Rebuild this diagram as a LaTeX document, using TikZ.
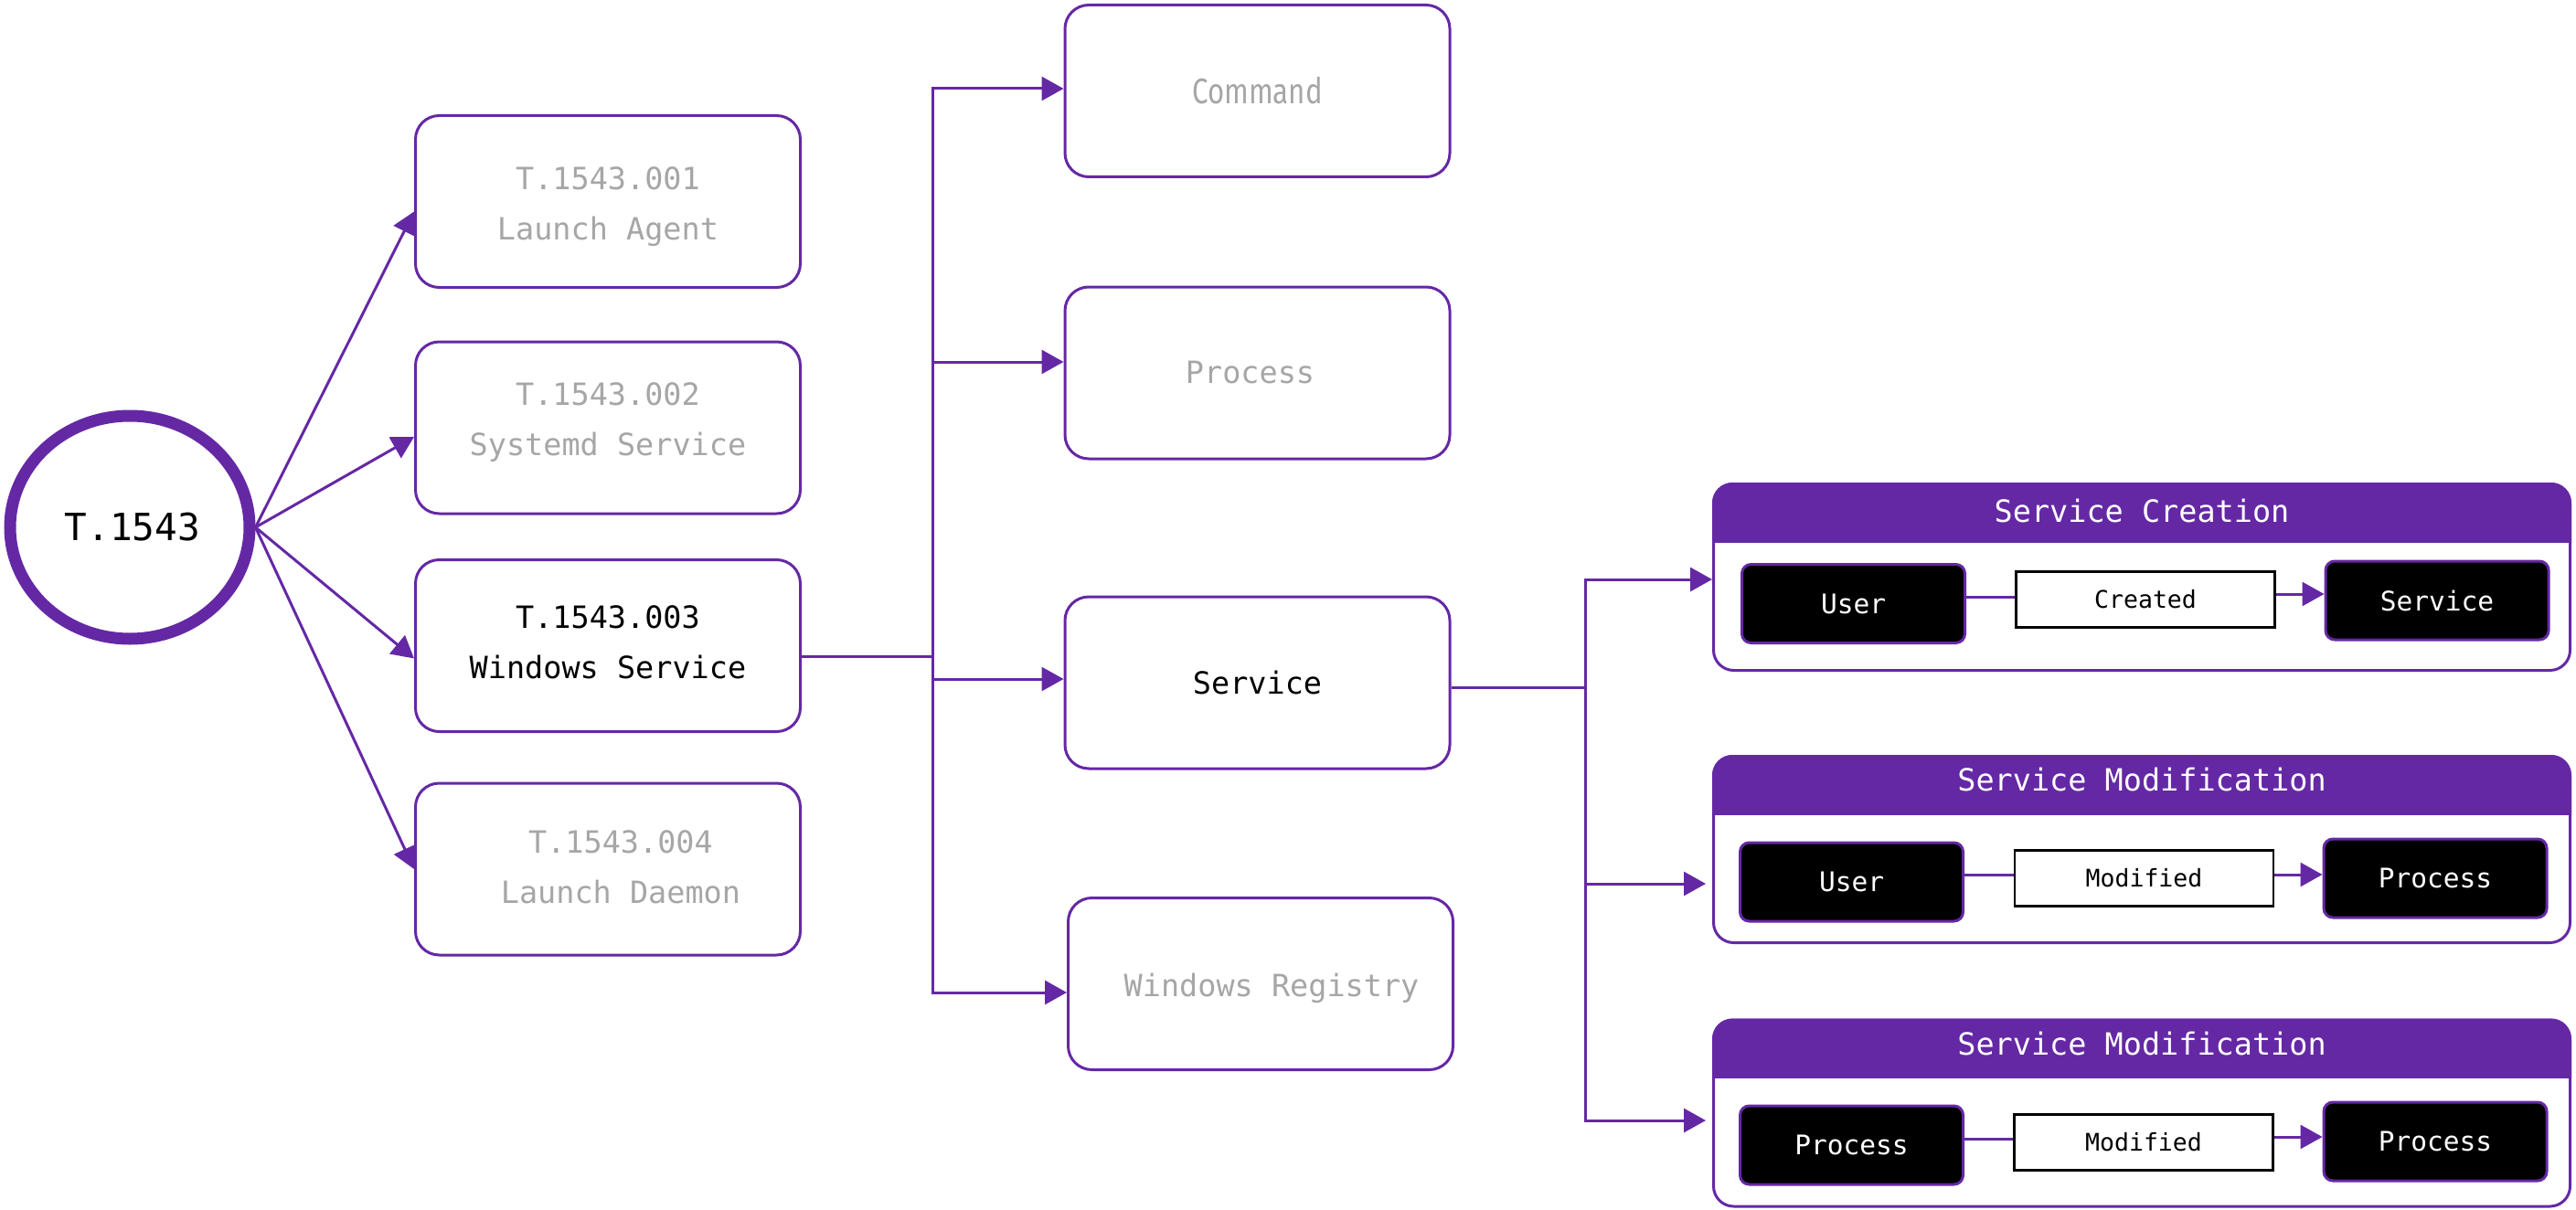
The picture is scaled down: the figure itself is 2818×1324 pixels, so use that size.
\documentclass[tikz,border=0pt]{standalone}
\usepackage{fontspec}
\setmainfont{DejaVu Sans Mono}
\newfontfamily\condsans[FakeStretch=0.8]{Fira Sans}
\usetikzlibrary{arrows.meta,shapes.geometric}
\definecolor{pur}{HTML}{6528A5}
\definecolor{gtxt}{HTML}{A6A6A6}
\begin{document}
\begin{tikzpicture}[x=1pt,y=-1pt,
  box/.style={draw=pur, line width=3pt, rounded corners=26pt, minimum width=421pt, minimum height=188pt, align=center, inner sep=0pt, font=\fontsize{33.5}{55}\selectfont},
  dim/.style={text=gtxt},
  arr/.style={draw=pur, line width=3pt, -{Triangle[length=24pt,width=26pt]}},
  conn/.style={draw=pur, line width=3pt},
  grp/.style={draw=pur, line width=3pt, rounded corners=22pt, minimum width=937pt, minimum height=204pt, inner sep=0pt},
  blk/.style={draw=pur, line width=3pt, fill=black, rounded corners=10pt, minimum width=244pt, minimum height=86pt, text=white, inner sep=0pt, font=\fontsize{29.5}{30}\selectfont},
  lbl/.style={draw=black, line width=2.5pt, fill=white, minimum width=283pt, minimum height=61pt, inner sep=0pt, font=\fontsize{26.5}{28}\selectfont},
  hdr/.style={text=white, inner sep=0pt, font=\fontsize{33.5}{36}\selectfont},
]
\useasboundingbox (0,0) rectangle (2818,1324);

% root
\node[ellipse, draw=pur, line width=13pt, minimum width=262pt, minimum height=244pt, inner sep=0pt, font=\fontsize{41}{44}\selectfont] (root) at (142,577) {\hspace*{6pt}T.1543};

% column 1
\node[box, dim] (b1) at (665,220.5) {\rule{0pt}{36pt}T.1543.001\\Launch Agent};
\node[box, dim] (b2) at (665,468) {T.1543.002\\Systemd Service\rule[-18pt]{0pt}{1pt}};
\node[box] (b3) at (665,706.5) {T.1543.003\\Windows Service\rule[-7pt]{0pt}{1pt}};
\node[box, dim] (b4) at (665,951) {\hspace*{28pt}T.1543.004\\\hspace*{28pt}Launch Daemon\rule[-4pt]{0pt}{1pt}};

\draw[arr] (root.east) -- ([yshift=-11pt]b1.west);
\draw[arr] (root.east) -- ([yshift=-10pt]b2.west);
\draw[arr] (root.east) -- ([yshift=-14pt]b3.west);
\draw[arr] (root.east) -- (b4.west);

% column 2
\node[box, dim] (cmd) at (1375.5,99.5) {\condsans\fontsize{39}{40}\selectfont Command};
\node[box, dim] (proc) at (1375.5,408) {Process\hspace*{16pt}};
\node[box] (svc) at (1375.5,747) {Service};
\node[box, dim] (wreg) at (1379,1076.5) {\hspace*{24pt}\rule{0pt}{36pt}Windows Registry};

\coordinate (ja) at (1020,718);
\coordinate (ta) at (1020,97);
\coordinate (tb) at (1020,396);
\coordinate (tc) at (1020,743);
\coordinate (td) at (1020,1086);
\draw[conn] ([yshift=-11.5pt]b3.east) -- (ja);
\draw[arr] (td) -- (ta) -- (ta -| cmd.west);
\draw[arr] (ta) -- (td) -- (td -| wreg.west);
\draw[arr] (tb) -- (tb -| proc.west);
\draw[arr] (tc) -- (tc -| svc.west);

% right groups
\node[grp] (sc) at (2343,631.5) {};
\node[grp] (sma) at (2343,929.5) {};
\node[grp] (smb) at (2343,1218) {};
\foreach \g in {sc,sma,smb}{
  \begin{scope}
    \clip ([xshift=-5pt,yshift=5pt]\g.north west) rectangle ([xshift=5pt,yshift=-65pt]\g.north east);
    \fill[pur, rounded corners=22pt] (\g.north west) rectangle (\g.south east);
  \end{scope}
}
\node[hdr] (sch) at ([yshift=-31pt]sc.north) {Service Creation};
\node[hdr] (smah) at ([yshift=-27pt]sma.north) {Service Modification};
\node[hdr] (smbh) at ([yshift=-27pt]smb.north) {Service Modification};

\coordinate (ka) at (1734,752);
\coordinate (ra) at (1734,634);
\coordinate (rb) at (1734,967);
\coordinate (rc) at (1734,1226);
\draw[conn] ([yshift=-5pt]svc.east) -- (ka);
\draw[arr] (rc) -- (ra) -- (ra -| sc.west);
\draw[arr] (ra) -- (rc) -- ([xshift=-7pt]rc -| smb.west);
\draw[arr] (rb) -- ([xshift=-7pt]rb -| sma.west);

% inner: service creation
\node[blk] (sca) at (2027.5,660.5) {User};
\node[lbl] (scb) at (2347,656) {Created};
\node[blk] (scc) at (2666,657) {Service};
\draw[conn] ([yshift=3pt]scb.west -| sca.east) -- ([yshift=3pt]scb.west);
\draw[arr] ([yshift=6pt]scb.east) -- ([yshift=6pt]scb.east -| scc.west);

% inner: modification 1
\node[blk] (maa) at (2025.5,965) {User};
\node[lbl] (mab) at (2345.5,961) {Modified};
\node[blk] (mac) at (2664,961) {Process};
\draw[conn] ([yshift=4pt]mab.west -| maa.east) -- ([yshift=4pt]mab.west);
\draw[arr] ([yshift=4pt]mab.east) -- ([yshift=4pt]mab.east -| mac.west);

% inner: modification 2
\node[blk] (mba) at (2025.5,1253) {Process};
\node[lbl] (mbb) at (2345,1250) {Modified};
\node[blk] (mbc) at (2664,1249) {Process};
\draw[conn] ([yshift=4pt]mbb.west -| mba.east) -- ([yshift=4pt]mbb.west);
\draw[arr] ([yshift=6pt]mbb.east) -- ([yshift=6pt]mbb.east -| mbc.west);
\end{tikzpicture}
\end{document}
